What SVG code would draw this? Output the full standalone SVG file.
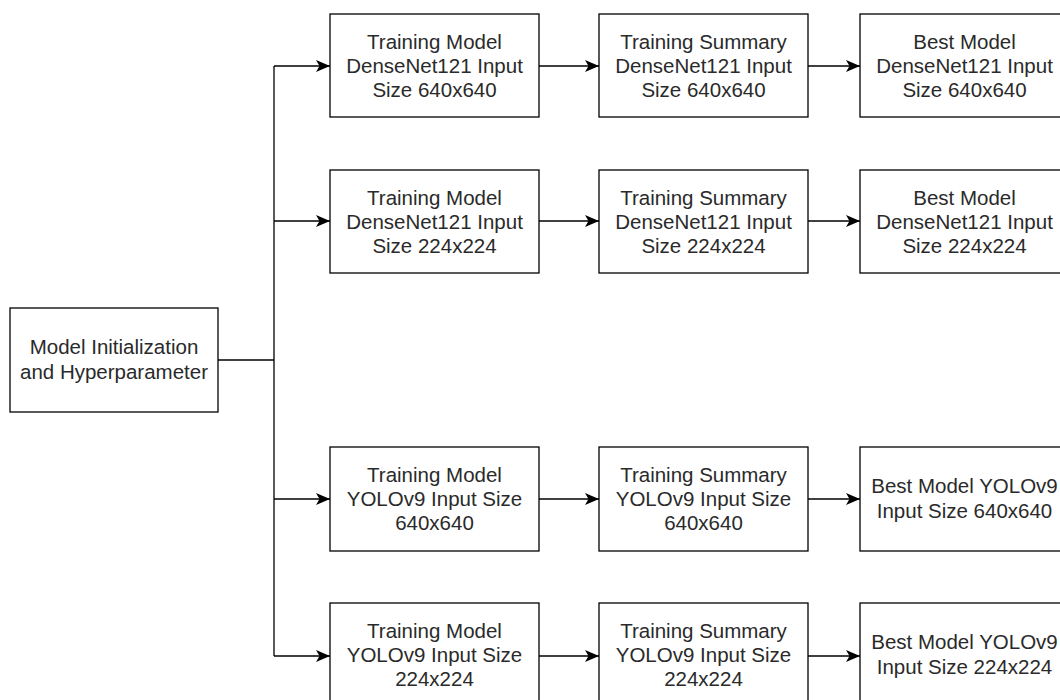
<svg xmlns="http://www.w3.org/2000/svg" width="1060" height="700" viewBox="0 0 1060 700">
  <style>
    .box { fill: #ffffff; stroke: #000000; stroke-width: 1.3; }
    .lbl { font-family: "Liberation Sans", Arial, sans-serif; font-size: 20.5px; fill: #2a2a2a; text-anchor: middle; }
    .wire { fill: none; stroke: #000000; stroke-width: 1.3; }
  </style>
  <defs>
    <marker id="arrow" markerUnits="userSpaceOnUse" markerWidth="15" markerHeight="14" refX="14" refY="7" orient="auto">
      <path d="M0,1 L14,7 L0,13 L3.5,7 Z" fill="#000000"/>
    </marker>
  </defs>
  <rect width="1060" height="700" fill="#ffffff"/>

  <!-- connectors -->
  <g id="connectors">
    <path class="wire" d="M218,360 H274"/>
    <path class="wire" d="M274,66 V656"/>
    <path class="wire" d="M274,66 H330" marker-end="url(#arrow)"/>
    <path class="wire" d="M274,221 H330" marker-end="url(#arrow)"/>
    <path class="wire" d="M274,499 H330" marker-end="url(#arrow)"/>
    <path class="wire" d="M274,656 H330" marker-end="url(#arrow)"/>
    <path class="wire" d="M539,66 H599" marker-end="url(#arrow)"/>
    <path class="wire" d="M539,221 H599" marker-end="url(#arrow)"/>
    <path class="wire" d="M539,499 H599" marker-end="url(#arrow)"/>
    <path class="wire" d="M539,656 H599" marker-end="url(#arrow)"/>
    <path class="wire" d="M808,66 H860" marker-end="url(#arrow)"/>
    <path class="wire" d="M808,221 H860" marker-end="url(#arrow)"/>
    <path class="wire" d="M808,499 H860" marker-end="url(#arrow)"/>
    <path class="wire" d="M808,656 H860" marker-end="url(#arrow)"/>
  </g>

  <!-- start node -->
  <g id="init">
    <rect class="box" x="10" y="308" width="208" height="104"/>
    <text class="lbl" x="114" y="354">Model Initialization</text>
    <text class="lbl" x="114" y="379">and Hyperparameter</text>
  </g>

  <!-- DenseNet121 640x640 row -->
  <g id="train-dn-640">
    <rect class="box" x="330" y="14" width="209" height="103"/>
    <text class="lbl" x="434.5" y="49">Training Model</text>
    <text class="lbl" x="434.5" y="73">DenseNet121 Input</text>
    <text class="lbl" x="434.5" y="97">Size 640x640</text>
  </g>
  <g id="summary-dn-640">
    <rect class="box" x="599" y="14" width="209" height="103"/>
    <text class="lbl" x="703.5" y="49">Training Summary</text>
    <text class="lbl" x="703.5" y="73">DenseNet121 Input</text>
    <text class="lbl" x="703.5" y="97">Size 640x640</text>
  </g>
  <g id="best-dn-640">
    <rect class="box" x="860" y="14" width="209" height="103"/>
    <text class="lbl" x="964.5" y="49">Best Model</text>
    <text class="lbl" x="964.5" y="73">DenseNet121 Input</text>
    <text class="lbl" x="964.5" y="97">Size 640x640</text>
  </g>

  <!-- DenseNet121 224x224 row -->
  <g id="train-dn-224">
    <rect class="box" x="330" y="170" width="209" height="103"/>
    <text class="lbl" x="434.5" y="205">Training Model</text>
    <text class="lbl" x="434.5" y="229">DenseNet121 Input</text>
    <text class="lbl" x="434.5" y="253">Size 224x224</text>
  </g>
  <g id="summary-dn-224">
    <rect class="box" x="599" y="170" width="209" height="103"/>
    <text class="lbl" x="703.5" y="205">Training Summary</text>
    <text class="lbl" x="703.5" y="229">DenseNet121 Input</text>
    <text class="lbl" x="703.5" y="253">Size 224x224</text>
  </g>
  <g id="best-dn-224">
    <rect class="box" x="860" y="170" width="209" height="103"/>
    <text class="lbl" x="964.5" y="205">Best Model</text>
    <text class="lbl" x="964.5" y="229">DenseNet121 Input</text>
    <text class="lbl" x="964.5" y="253">Size 224x224</text>
  </g>

  <!-- YOLOv9 640x640 row -->
  <g id="train-yolo-640">
    <rect class="box" x="330" y="447" width="209" height="104"/>
    <text class="lbl" x="434.5" y="482">Training Model</text>
    <text class="lbl" x="434.5" y="506">YOLOv9 Input Size</text>
    <text class="lbl" x="434.5" y="530">640x640</text>
  </g>
  <g id="summary-yolo-640">
    <rect class="box" x="599" y="447" width="209" height="104"/>
    <text class="lbl" x="703.5" y="482">Training Summary</text>
    <text class="lbl" x="703.5" y="506">YOLOv9 Input Size</text>
    <text class="lbl" x="703.5" y="530">640x640</text>
  </g>
  <g id="best-yolo-640">
    <rect class="box" x="860" y="447" width="209" height="104"/>
    <text class="lbl" x="964.5" y="493">Best Model YOLOv9</text>
    <text class="lbl" x="964.5" y="518">Input Size 640x640</text>
  </g>

  <!-- YOLOv9 224x224 row -->
  <g id="train-yolo-224">
    <rect class="box" x="330" y="603" width="209" height="104"/>
    <text class="lbl" x="434.5" y="638">Training Model</text>
    <text class="lbl" x="434.5" y="662">YOLOv9 Input Size</text>
    <text class="lbl" x="434.5" y="686">224x224</text>
  </g>
  <g id="summary-yolo-224">
    <rect class="box" x="599" y="603" width="209" height="104"/>
    <text class="lbl" x="703.5" y="638">Training Summary</text>
    <text class="lbl" x="703.5" y="662">YOLOv9 Input Size</text>
    <text class="lbl" x="703.5" y="686">224x224</text>
  </g>
  <g id="best-yolo-224">
    <rect class="box" x="860" y="603" width="209" height="104"/>
    <text class="lbl" x="964.5" y="649">Best Model YOLOv9</text>
    <text class="lbl" x="964.5" y="674">Input Size 224x224</text>
  </g>
</svg>
